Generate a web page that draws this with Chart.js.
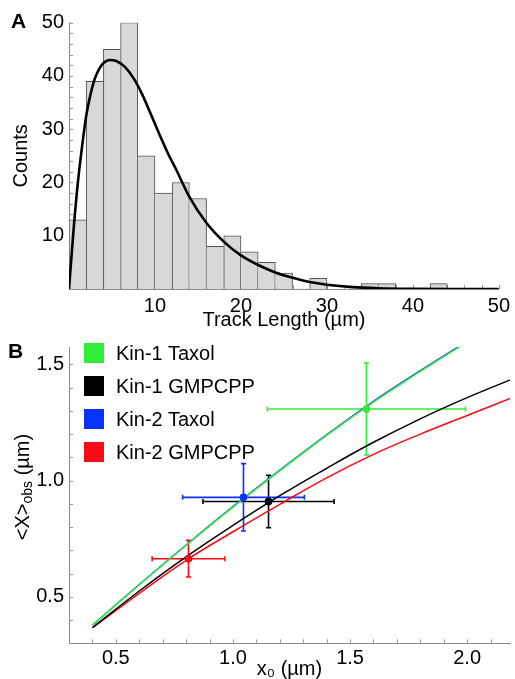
<!DOCTYPE html>
<html>
<head>
<meta charset="utf-8">
<script src="https://cdn.jsdelivr.net/npm/chart.js@4"></script>
<style>
  body { margin: 0; background: #fff; font-family: "Liberation Sans", Arial, sans-serif; }
  #wrap { position: relative; width: 515px; height: 679px; overflow: hidden; }
  #chartA { position: absolute; left: 0; top: 0; }
  #chartB { position: absolute; left: 0; top: 330px; }
  .panel { position: absolute; font-weight: bold; font-size: 21px; line-height: 21px; }
  .key { position: absolute; left: 84px; height: 20px; line-height: 20px; font-size: 20px; white-space: nowrap; }
  .key span { position: absolute; left: 0; top: 0; width: 20px; height: 20px; }
  .key b { position: absolute; left: 32px; top: 0; font-weight: normal; }
  #ytitleB { position: absolute; left: -78px; top: 475px; width: 200px; height: 24px; line-height: 24px;
             text-align: center; font-size: 20px; white-space: nowrap; transform: rotate(-90deg); }
  #ytitleB sub { font-size: 14px; vertical-align: -3px; }
</style>
</head>
<body>
<div id="wrap">
  <canvas id="chartA" width="515" height="330"></canvas>
  <canvas id="chartB" width="515" height="349"></canvas>
  <div class="panel" style="left:11px;top:10px">A</div>
  <div class="panel" style="left:8px;top:340px">B</div>
  <div id="ytitleB">&lt;X&gt;<sub>obs</sub> (µm)</div>
  <div id="legendB"></div>
</div>
<script>
  // panel A: track length histogram (2 µm bins) and fitted curve
  const binCenters = [1, 3, 5, 7, 9, 11, 13, 15, 17, 19, 21, 23, 25, 27, 29, 31, 33, 35, 37, 39, 41, 43, 45, 47, 49];
  const binCounts = [13, 39, 45, 50, 25, 18, 20, 17, 8, 10, 7, 5, 3, 0, 2, 0, 0, 1, 1, 0, 0, 1, 0, 0, 0];
  const fitX = [0, 0.5, 1, 1.5, 2, 2.5, 3, 3.5, 4, 4.7, 5.5, 6.5, 7.5, 8.5, 9.5, 10.5, 11.5, 12.5, 14, 16, 18, 20, 22, 24, 26, 28, 30, 33, 36, 40, 45, 50];
  const fitY = [0, 10.5, 19.5, 26.5, 32.5, 36.5, 39.5, 41.3, 42.4, 43.0, 42.8, 41.7, 39.6, 36.6, 32.9, 29.1, 25.5, 22.3, 17.3, 12.4, 8.9, 6.3, 4.5, 3.1, 2.1, 1.3, 0.8, 0.35, 0.15, 0.05, 0.01, 0];
  const ticksAX = [10, 20, 30, 40, 50];
  const ticksAY = [10, 20, 30, 40, 50];

  // panel B: observed vs x0, four conditions
  const seriesNames = ["Kin-1 Taxol", "Kin-1 GMPCPP", "Kin-2 Taxol", "Kin-2 GMPCPP"];
  const seriesColors = ["rgb(50,236,60)", "rgb(0,0,0)", "rgb(10,50,255)", "rgb(250,10,20)"];
  const pointX = [1.570, 1.152, 1.045, 0.810];
  const pointY = [1.308, 0.910, 0.928, 0.664];
  const pointXErr = [0.423, 0.280, 0.260, 0.155];
  const pointYErr = [0.198, 0.113, 0.145, 0.079];
  const curveX = [0.4, 0.6, 0.8, 1.0, 1.2, 1.4, 1.6, 1.8, 2.0, 2.2];
  const curveKin1Taxol = [0.378, 0.552, 0.722, 0.886, 1.043, 1.195, 1.338, 1.470, 1.596, 1.718];
  const curveKin1Gmpcpp = [0.367, 0.525, 0.672, 0.807, 0.935, 1.053, 1.165, 1.266, 1.357, 1.440];
  const curveKin2Taxol = [0.378, 0.553, 0.723, 0.888, 1.045, 1.197, 1.341, 1.473, 1.599, 1.721];
  const curveKin2Gmpcpp = [0.367, 0.515, 0.657, 0.780, 0.898, 1.012, 1.113, 1.200, 1.280, 1.360];
  const ticksBX = [0.5, 1.0, 1.5, 2.0];
  const ticksBY = [0.5, 1.0, 1.5];

  const font = { family: "'Liberation Sans', Arial, sans-serif", size: 20 };
  const range = (a, b, s) => { const r = []; for (let v = a; v <= b + 1e-9; v += s) r.push(+v.toFixed(3)); return r; };

  // small ticks that point into the plot
  const innerTicks = {
    id: "innerTicks",
    beforeDatasetsDraw(chart, args, opts) {
      const { ctx, chartArea: a, scales } = chart;
      ctx.save();
      ctx.strokeStyle = opts.color;
      ctx.lineWidth = 1;
      ctx.beginPath();
      opts.x.forEach(v => {
        const px = Math.round(scales.x.getPixelForValue(v)) + 0.5;
        ctx.moveTo(px, a.bottom);
        ctx.lineTo(px, a.bottom - opts.len);
      });
      opts.y.forEach(v => {
        const py = Math.round(scales.y.getPixelForValue(v)) + 0.5;
        ctx.moveTo(a.left, py);
        ctx.lineTo(a.left + opts.len, py);
      });
      ctx.stroke();
      ctx.restore();
    }
  };

  const errorBars = {
    id: "errorBars",
    beforeDatasetsDraw(chart) {
      const { ctx, scales: { x, y } } = chart;
      const cap = 2.5;
      ctx.save();
      ctx.lineWidth = 1.6;
      pointX.forEach((v, i) => {
        const cx = x.getPixelForValue(v), cy = y.getPixelForValue(pointY[i]);
        const x1 = x.getPixelForValue(v - pointXErr[i]), x2 = x.getPixelForValue(v + pointXErr[i]);
        const y1 = y.getPixelForValue(pointY[i] - pointYErr[i]), y2 = y.getPixelForValue(pointY[i] + pointYErr[i]);
        ctx.strokeStyle = seriesColors[i];
        ctx.beginPath();
        ctx.moveTo(x1, cy); ctx.lineTo(x2, cy);
        ctx.moveTo(x1, cy - cap); ctx.lineTo(x1, cy + cap);
        ctx.moveTo(x2, cy - cap); ctx.lineTo(x2, cy + cap);
        ctx.moveTo(cx, y1); ctx.lineTo(cx, y2);
        ctx.moveTo(cx - cap, y1); ctx.lineTo(cx + cap, y1);
        ctx.moveTo(cx - cap, y2); ctx.lineTo(cx + cap, y2);
        ctx.stroke();
      });
      ctx.restore();
    }
  };

  // histogram bars share edges: the taller neighbour draws the edge
  function barBorder(c) {
    const i = c.dataIndex, h = binCounts[i];
    const prev = i > 0 ? binCounts[i - 1] : 0;
    const next = i < binCounts.length - 1 ? binCounts[i + 1] : 0;
    return { top: 1, left: prev < h ? 1 : 0, right: next <= h ? 1 : 0, bottom: 0 };
  }

  new Chart(document.getElementById("chartA"), {
    type: "bar",
    data: {
      datasets: [
        {
          type: "line",
          data: fitX.map((x, i) => ({ x, y: fitY[i] })),
          borderColor: "#000",
          borderWidth: 2.6,
          pointRadius: 0,
          cubicInterpolationMode: "monotone",
          fill: false
        },
        {
          type: "bar",
          data: binCenters.map((x, i) => ({ x, y: binCounts[i] })),
          backgroundColor: "rgb(216,216,216)",
          borderColor: "rgb(80,80,80)",
          borderWidth: barBorder,
          borderSkipped: "start",
          barPercentage: 1,
          categoryPercentage: 1
        }
      ]
    },
    options: {
      responsive: false,
      animation: false,
      layout: { padding: { top: 22.7, right: 13, left: 0, bottom: 0 } },
      plugins: {
        legend: { display: false },
        tooltip: { enabled: false },
        innerTicks: { x: range(2, 50, 2), y: range(2, 50, 2), len: 4, color: "#9a9a9a" }
      },
      scales: {
        x: {
          type: "linear", min: 0, max: 50, offset: false,
          grid: { display: false, drawTicks: false, offset: false },
          border: { color: "#8a8a8a" },
          afterBuildTicks: s => { s.ticks = ticksAX.map(v => ({ value: v })); },
          afterFit: s => { s.height = 41; },
          ticks: { font, color: "#000", padding: 5, maxRotation: 0, autoSkip: false, callback: v => String(v) },
          title: { display: true, text: "Track Length (µm)", color: "#000", font: { ...font, lineHeight: 1 }, padding: 0 }
        },
        y: {
          min: 0, max: 50,
          grid: { display: false, drawTicks: false },
          border: { color: "#8a8a8a" },
          afterBuildTicks: s => { s.ticks = ticksAY.map(v => ({ value: v })); },
          afterFit: s => { s.width = 69; },
          ticks: { font, color: "#000", padding: 5, callback: v => String(v) },
          title: { display: true, text: "Counts", color: "#000", font: { ...font, lineHeight: 1 }, padding: { top: 11, bottom: 0 } }
        }
      }
    },
    plugins: [innerTicks]
  });

  const curves = [curveKin1Taxol, curveKin1Gmpcpp, curveKin2Taxol, curveKin2Gmpcpp];
  const pointSets = seriesNames.map((name, i) => ({
    label: name,
    data: [{ x: pointX[i], y: pointY[i] }],
    backgroundColor: seriesColors[i],
    borderColor: seriesColors[i],
    pointRadius: 3.5,
    showLine: false
  }));
  // earlier datasets are painted on top: green over the blue it nearly hides
  const lineSets = [0, 1, 3, 2].map(i => ({
    label: seriesNames[i] + " fit",
    data: curveX.map((x, k) => ({ x, y: curves[i][k] })),
    borderColor: seriesColors[i],
    borderWidth: 1.5,
    pointRadius: 0,
    showLine: true,
    tension: 0.4,
    fill: false
  }));

  new Chart(document.getElementById("chartB"), {
    type: "scatter",
    data: { datasets: pointSets.concat(lineSets) },
    options: {
      responsive: false,
      animation: false,
      layout: { padding: { top: 13.3, right: 0, left: 0, bottom: 0 } },
      plugins: {
        legend: { display: false },
        tooltip: { enabled: false },
        innerTicks: { x: range(0.4, 2.1, 0.1), y: range(0.4, 1.5, 0.1), len: 4, color: "#9a9a9a" }
      },
      scales: {
        x: {
          type: "linear", min: 0.3, max: 2.183,
          grid: { display: false, drawTicks: false },
          border: { color: "#8a8a8a" },
          afterBuildTicks: s => { s.ticks = ticksBX.map(v => ({ value: v })); },
          afterFit: s => { s.height = 35.7; },
          ticks: { font, color: "#000", padding: 3, maxRotation: 0, autoSkip: false, callback: v => v.toFixed(1) },
          title: { display: true, text: "x₀ (µm)", color: "#000", font: { ...font, lineHeight: 1 }, padding: 0 }
        },
        y: {
          min: 0.3, max: 1.575,
          grid: { display: false, drawTicks: false },
          border: { color: "#8a8a8a" },
          afterBuildTicks: s => { s.ticks = ticksBY.map(v => ({ value: v })); },
          afterFit: s => { s.width = 69; },
          ticks: { font, color: "#000", padding: 5, callback: v => v.toFixed(1) }
        }
      }
    },
    plugins: [innerTicks, errorBars]
  });

  // legend in the top-left corner of panel B
  const legend = document.getElementById("legendB");
  seriesNames.forEach((name, i) => {
    const row = document.createElement("div");
    row.className = "key";
    row.style.top = (343 + i * 33) + "px";
    row.innerHTML = '<span style="background:' + seriesColors[i] + '"></span><b>' + name + "</b>";
    legend.appendChild(row);
  });
</script>
</body>
</html>
